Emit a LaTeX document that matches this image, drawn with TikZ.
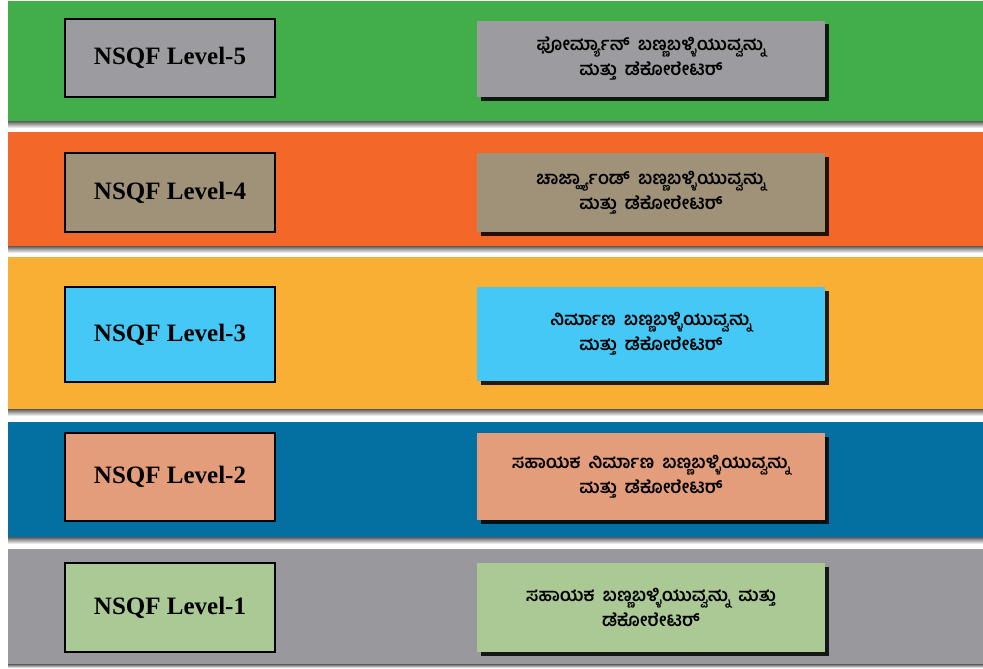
\documentclass[tikz,border=0pt]{standalone}
\usepackage{fontspec}
\setmainfont{Liberation Serif}
\newfontfamily\kanfont[Script=Kannada,WordSpace=1.8]{Hind Mysuru}
\usetikzlibrary{shadows,positioning}
\definecolor{bandgreen}{HTML}{42AE4A}
\definecolor{bandorange}{HTML}{F36829}
\definecolor{bandyellow}{HTML}{F8AF33}
\definecolor{bandblue}{HTML}{0470A1}
\definecolor{bandgray}{HTML}{99989D}
\definecolor{boxgray}{HTML}{9C9BA0}
\definecolor{boxtan}{HTML}{A09278}
\definecolor{boxcyan}{HTML}{45C8F5}
\definecolor{boxsalmon}{HTML}{E39D7B}
\definecolor{boxgreen}{HTML}{ABC995}

\begin{document}
\begin{tikzpicture}[x=1pt,y=-1pt,
  band/.style={anchor=north west,minimum width=975pt,inner sep=0pt,outer sep=0pt},
  levelbox/.style={draw=black,line width=2pt,minimum width=210pt,inner sep=0pt,
    font=\fontsize{25}{28}\selectfont\bfseries},
  jobbox/.style={minimum width=348pt,inner sep=0pt,align=center,
    font=\kanfont\fontsize{18}{25}\selectfont\bfseries,
    drop shadow={shadow xshift=3.5pt,shadow yshift=-3.5pt,fill=black,opacity=.85}},
  bandshadow/.style={top color=black!65,bottom color=white}]
\useasboundingbox (0,0) rectangle (983,669);
% coloured bands
\node[band,fill=bandgreen,minimum height=120pt] (band5) at (8,1) {};
\node[band,fill=bandorange,minimum height=114pt] (band4) at (8,132) {};
\node[band,fill=bandyellow,minimum height=152pt] (band3) at (8,257) {};
\node[band,fill=bandblue,minimum height=115pt] (band2) at (8,422) {};
\node[band,fill=bandgray,minimum height=115pt] (band1) at (8,549) {};
\shade[bandshadow] (band5.south west) rectangle ([yshift=-7pt]band5.south east);
\shade[bandshadow] (band4.south west) rectangle ([yshift=-7pt]band4.south east);
\shade[bandshadow] (band3.south west) rectangle ([yshift=-7pt]band3.south east);
\shade[bandshadow] (band2.south west) rectangle ([yshift=-7pt]band2.south east);
\shade[bandshadow] (band1.south west) rectangle ([yshift=-4pt]band1.south east);
% levels
\node[levelbox,fill=boxgray,minimum height=78pt] (lev5) at (170,58) {NSQF Level-5};
\node[levelbox,fill=boxtan,minimum height=79pt] (lev4) at (170,192.5) {NSQF Level-4};
\node[levelbox,fill=boxcyan,minimum height=95pt] (lev3) at (170,334.5) {NSQF Level-3};
\node[levelbox,fill=boxsalmon,minimum height=88pt] (lev2) at (170,477) {NSQF Level-2};
\node[levelbox,fill=boxgreen,minimum height=89pt] (lev1) at (170,607.5) {NSQF Level-1};
% job titles
\node[jobbox,fill=boxgray,minimum height=76pt] (job5) at (651,59)
  {ಫೋರ್ಮ್ಯಾನ್ ಬಣ್ಣಬಳ್ಳಿಯುವ್ವನ್ನು\\ಮತ್ತು ಡೆಕೋರೇಟರ್};
\node[jobbox,fill=boxtan,minimum height=79pt] (job4) at (651,192.5)
  {ಚಾರ್ಜ್ಹ್ಯಾಂಡ್ ಬಣ್ಣಬಳ್ಳಿಯುವ್ವನ್ನು\\ಮತ್ತು ಡೆಕೋರೇಟರ್};
\node[jobbox,fill=boxcyan,minimum height=94pt] (job3) at (651,334)
  {ನಿರ್ಮಾಣ ಬಣ್ಣಬಳ್ಳಿಯುವ್ವನ್ನು\\ಮತ್ತು ಡೆಕೋರೇಟರ್};
\node[jobbox,fill=boxsalmon,minimum height=87pt] (job2) at (651,476.5)
  {ಸಹಾಯಕ ನಿರ್ಮಾಣ ಬಣ್ಣಬಳ್ಳಿಯುವ್ವನ್ನು\\ಮತ್ತು ಡೆಕೋರೇಟರ್};
\node[jobbox,fill=boxgreen,minimum height=89pt] (job1) at (651,607.5)
  {ಸಹಾಯಕ ಬಣ್ಣಬಳ್ಳಿಯುವ್ವನ್ನು ಮತ್ತು\\ಡೆಕೋರೇಟರ್};
\end{tikzpicture}
\end{document}
